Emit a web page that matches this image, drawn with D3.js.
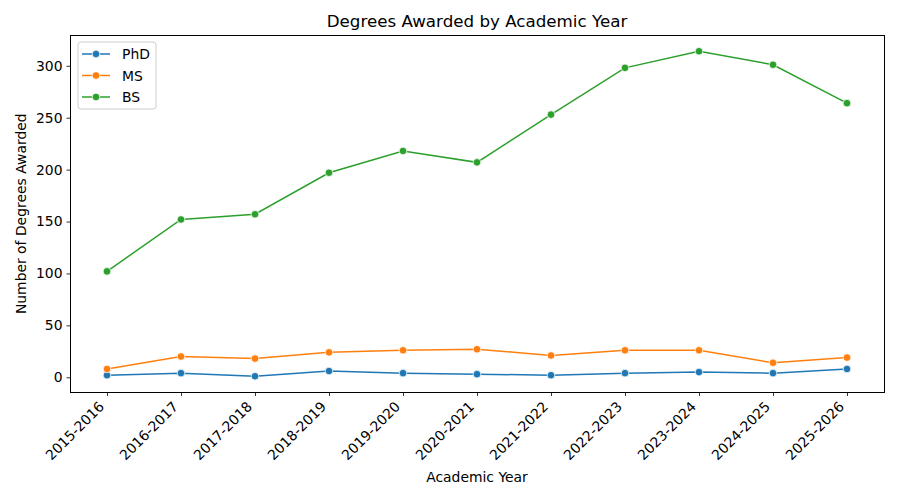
<!DOCTYPE html>
<html>
<head>
<meta charset="utf-8">
<script src="https://cdn.jsdelivr.net/npm/d3@7/dist/d3.min.js"></script>
<style>
  body { margin: 0; background: #fff; }
  text { font-family: "DejaVu Sans", sans-serif; fill: #000; }
</style>
</head>
<body>
<div id="mainContainer"></div>
<script>
'use strict';

var years = ['2015-2016', '2016-2017', '2017-2018', '2018-2019', '2019-2020', '2020-2021',
    '2021-2022', '2022-2023', '2023-2024', '2024-2025', '2025-2026'];
var seriesNames = ['PhD', 'MS', 'BS'];
var phdValues = [2, 4, 1, 6, 4, 3, 2, 4, 5, 4, 8];
var msValues = [8, 20, 18, 24, 26, 27, 21, 26, 26, 14, 19];
var bsValues = [102, 152, 157, 197, 218, 207, 253, 298, 314, 301, 264];
var yTicks = [0, 50, 100, 150, 200, 250, 300];
var colors = ['#1f77b4', '#ff7f0e', '#2ca02c'];

var svgWidth = 900,
    svgHeight = 500,
    plotLeft = 70,
    plotRight = 884,
    plotTop = 35,
    plotBottom = 392.5;

var svg = d3.select('#mainContainer')
    .append('svg')
    .attr('width', svgWidth)
    .attr('height', svgHeight);

var x = d3.scaleLinear().domain([-0.5, years.length - 0.5]).range([plotLeft, plotRight]);
var y = d3.scaleLinear().domain([-14.65, 329.65]).range([plotBottom, plotTop]);

var allSeries = [phdValues, msValues, bsValues];

// x axis
var xAxis = svg.append('g')
    .attr('transform', 'translate(0,' + plotBottom + ')')
    .call(d3.axisBottom(x)
        .tickValues(d3.range(years.length))
        .tickFormat(function (i) { return years[i]; })
        .tickSize(3.5)
        .tickPadding(3));
xAxis.select('.domain').remove();
xAxis.selectAll('line').attr('stroke', '#000').attr('stroke-width', 0.8);
xAxis.selectAll('text')
    .style('font-size', '13.9px')
    .attr('text-anchor', 'end')
    .attr('dy', null)
    .attr('y', 0)
    .attr('transform', 'translate(-2.5,15) rotate(-45)');

// y axis
var yAxis = svg.append('g')
    .attr('transform', 'translate(' + plotLeft + ',0)')
    .call(d3.axisLeft(y).tickValues(yTicks).tickSize(3.5).tickPadding(4));
yAxis.select('.domain').remove();
yAxis.selectAll('line').attr('stroke', '#000').attr('stroke-width', 0.8);
yAxis.selectAll('text').style('font-size', '13.9px');

// frame
svg.append('rect')
    .attr('x', plotLeft)
    .attr('y', plotTop)
    .attr('width', plotRight - plotLeft)
    .attr('height', plotBottom - plotTop)
    .attr('fill', 'none')
    .attr('stroke', '#000')
    .attr('stroke-width', 1)
    .attr('shape-rendering', 'crispEdges');

var line = d3.line()
    .x(function (d, i) { return x(i); })
    .y(function (d) { return y(d); });

allSeries.forEach(function (vals, k) {
    var g = svg.append('g');
    g.append('path')
        .datum(vals)
        .attr('d', line)
        .attr('fill', 'none')
        .attr('stroke', colors[k])
        .attr('stroke-width', 1.5);
    g.selectAll('circle')
        .data(vals)
        .enter()
        .append('circle')
        .attr('cx', function (d, i) { return x(i); })
        .attr('cy', function (d) { return y(d); })
        .attr('r', 3.8)
        .attr('fill', colors[k])
        .attr('stroke', '#fff')
        .attr('stroke-width', 0.75);
});

// legend
var legend = svg.append('g').attr('transform', 'translate(78,42)');
legend.append('rect')
    .attr('width', 78)
    .attr('height', 67)
    .attr('rx', 3)
    .attr('fill', '#fff')
    .attr('fill-opacity', 0.8)
    .attr('stroke', '#ccc')
    .attr('stroke-width', 1);
seriesNames.forEach(function (name, k) {
    var ly = 12 + k * 21.5;
    legend.append('line')
        .attr('x1', 4).attr('x2', 32)
        .attr('y1', ly).attr('y2', ly)
        .attr('stroke', colors[k])
        .attr('stroke-width', 1.5);
    legend.append('circle')
        .attr('cx', 18).attr('cy', ly).attr('r', 3.8)
        .attr('fill', colors[k])
        .attr('stroke', '#fff')
        .attr('stroke-width', 0.75);
    legend.append('text')
        .attr('x', 44).attr('y', ly + 5)
        .style('font-size', '13.9px')
        .text(name);
});

// titles
svg.append('text')
    .attr('x', (plotLeft + plotRight) / 2)
    .attr('y', 27)
    .attr('text-anchor', 'middle')
    .style('font-size', '16.7px')
    .text('Degrees Awarded by Academic Year');

svg.append('text')
    .attr('x', (plotLeft + plotRight) / 2)
    .attr('y', 482)
    .attr('text-anchor', 'middle')
    .style('font-size', '13.9px')
    .text('Academic Year');

svg.append('text')
    .attr('transform', 'translate(26,' + ((plotTop + plotBottom) / 2) + ') rotate(-90)')
    .attr('text-anchor', 'middle')
    .style('font-size', '13.9px')
    .text('Number of Degrees Awarded');
</script>
</body>
</html>
